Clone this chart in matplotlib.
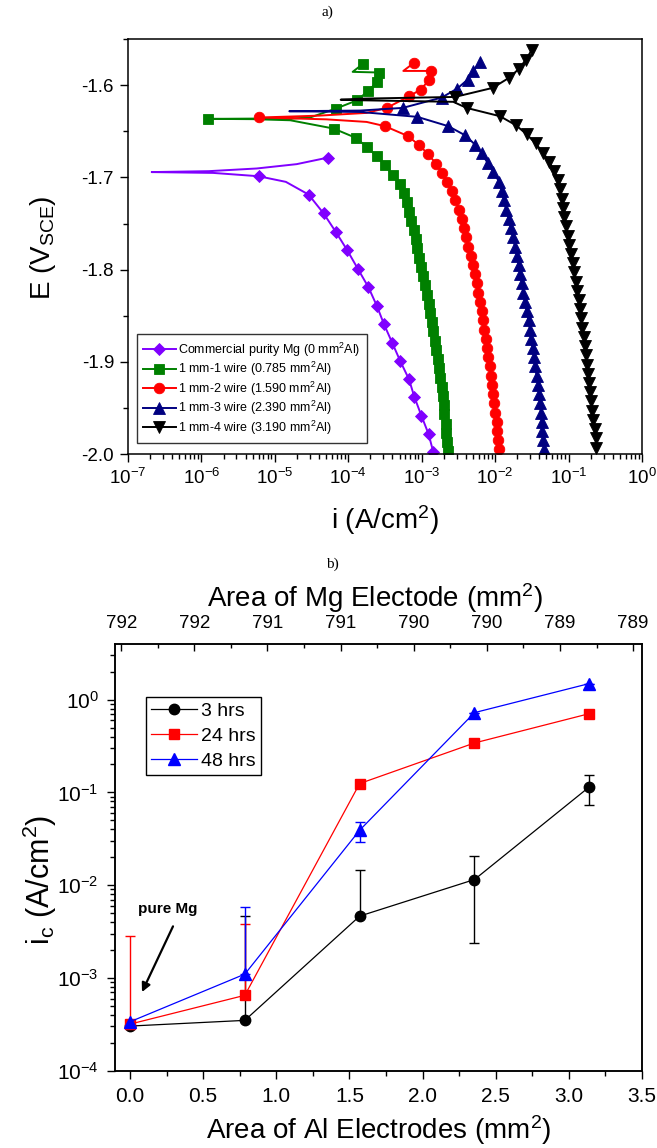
import matplotlib
matplotlib.use('Agg')
import matplotlib.pyplot as plt
import numpy as np
from matplotlib.ticker import (MultipleLocator, LogLocator, FormatStrFormatter,
                               NullFormatter, FixedLocator)

plt.rcParams['font.family'] = ['Liberation Sans', 'DejaVu Sans']
plt.rcParams['mathtext.fontset'] = 'custom'
plt.rcParams['mathtext.rm'] = 'Liberation Sans'
plt.rcParams['mathtext.it'] = 'Liberation Sans:italic'
plt.rcParams['mathtext.bf'] = 'Liberation Sans:bold'
plt.rcParams['axes.unicode_minus'] = False
plt.rcParams['axes.linewidth'] = 1.1

# ---- a) polarisation curves: E (V) and log10 i (A/cm2), in drawing order ----
E_mg = [-1.9975, -1.9784, -1.9586, -1.9380, -1.9189, -1.8995, -1.8796, -1.8595,
        -1.8396, -1.8191, -1.7993, -1.7787, -1.7589, -1.7391, -1.7186, -1.7048,
        -1.6987, -1.6951, -1.6942, -1.6932, -1.6903, -1.6856, -1.6784]
logi_mg = [-2.843, -2.906, -3.003, -3.100, -3.173, -3.29, -3.40, -3.512,
           -3.609, -3.725, -3.868, -4.016, -4.171, -4.335, -4.54, -4.85,
           -5.222, -5.84, -6.677, -5.9, -5.247, -4.703, -4.272]
skip_mg = [15, 17, 18, 19, 20, 21]

E_w1 = [-1.997, -1.987, -1.977, -1.967, -1.957, -1.947, -1.937, -1.927, -1.917,
        -1.907, -1.897, -1.887, -1.877, -1.867, -1.857, -1.847, -1.837, -1.827,
        -1.817, -1.807, -1.797, -1.787, -1.777, -1.767, -1.757, -1.747, -1.737,
        -1.727, -1.717, -1.707, -1.697, -1.687, -1.677, -1.667, -1.657, -1.647,
        -1.638, -1.6368, -1.6365, -1.6362, -1.6362, -1.635,
        -1.6253, -1.6163, -1.6058, -1.5964, -1.5862, -1.5855, -1.5765]
logi_w1 = [-2.645, -2.655, -2.665, -2.675, -2.69, -2.70, -2.715, -2.73, -2.75,
           -2.76, -2.78, -2.80, -2.82, -2.84, -2.86, -2.88, -2.90, -2.93,
           -2.95, -2.98, -3.01, -3.03, -3.06, -3.08, -3.11, -3.14, -3.17,
           -3.20, -3.24, -3.30, -3.396, -3.50, -3.613, -3.745, -3.899, -4.199,
           -4.79, -5.3, -5.906, -5.3, -4.8, -4.52,
           -4.167, -3.877, -3.725, -3.605, -3.582, -3.94, -3.795]
skip_w1 = [36, 37, 39, 40, 41, 47]

E_w2 = [-1.995, -1.985, -1.975, -1.965, -1.955, -1.945, -1.935, -1.925, -1.915,
        -1.905, -1.895, -1.885, -1.875, -1.865, -1.855, -1.845, -1.835, -1.825,
        -1.815, -1.805, -1.795, -1.785, -1.775, -1.765, -1.755, -1.745, -1.735,
        -1.725, -1.715, -1.705, -1.695, -1.685, -1.675, -1.665, -1.655, -1.6444,
        -1.6398, -1.637, -1.635, -1.633, -1.630,
        -1.6246, -1.6119, -1.6047, -1.5946, -1.5845, -1.5845, -1.5754]
logi_w2 = [-1.95, -1.96, -1.97, -1.98, -1.995, -2.01, -2.025, -2.04, -2.055,
           -2.07, -2.09, -2.105, -2.125, -2.145, -2.16, -2.185, -2.205, -2.23,
           -2.25, -2.28, -2.305, -2.335, -2.365, -2.39, -2.42, -2.45, -2.49,
           -2.54, -2.59, -2.651, -2.728, -2.806, -2.91, -3.033, -3.191, -3.50,
           -3.75, -4.3, -5.212, -4.4, -3.75,
           -3.477, -3.169, -3.014, -2.901, -2.878, -3.25, -3.101]
skip_w2 = [36, 37, 39, 40, 46]

E_w3 = [-1.995, -1.985, -1.975, -1.965, -1.955, -1.945, -1.935, -1.925, -1.915,
        -1.905, -1.895, -1.885, -1.875, -1.865, -1.855, -1.845, -1.835, -1.825,
        -1.815, -1.805, -1.795, -1.785, -1.775, -1.765, -1.755, -1.745, -1.735,
        -1.725, -1.715, -1.7048, -1.694, -1.6842, -1.674, -1.6643, -1.6542,
        -1.6444, -1.6343,
        -1.629, -1.6282, -1.6275,
        -1.6246, -1.6134, -1.6036, -1.5939, -1.5845, -1.5753]
logi_w3 = [-1.333, -1.345, -1.355, -1.365, -1.377, -1.39, -1.40, -1.415, -1.435,
           -1.455, -1.47, -1.49, -1.51, -1.525, -1.545, -1.57, -1.595, -1.615,
           -1.635, -1.655, -1.68, -1.705, -1.73, -1.755, -1.785, -1.815, -1.85,
           -1.88, -1.91, -1.944, -2.025, -2.102, -2.183, -2.274, -2.411,
           -2.638, -3.06,
           -3.84, -4.803, -3.84,
           -3.259, -2.728, -2.515, -2.374, -2.298, -2.206]
skip_w3 = [37, 38, 39]

E_w4 = [-1.993, -1.983, -1.973, -1.963, -1.953, -1.943, -1.933, -1.923, -1.913,
        -1.903, -1.893, -1.883, -1.873, -1.863, -1.853, -1.843, -1.833, -1.823,
        -1.813, -1.803, -1.793, -1.783, -1.773, -1.763, -1.753, -1.743, -1.733,
        -1.723, -1.713, -1.703, -1.6929, -1.6831, -1.6734, -1.6632, -1.6531,
        -1.6434, -1.6336, -1.6246,
        -1.618, -1.6163, -1.6157, -1.6146,
        -1.6127, -1.6029, -1.592, -1.5819, -1.5721, -1.562]
logi_w4 = [-0.62, -0.63, -0.645, -0.66, -0.675, -0.69, -0.705, -0.72, -0.735,
           -0.75, -0.765, -0.78, -0.795, -0.81, -0.825, -0.845, -0.86, -0.88,
           -0.90, -0.92, -0.945, -0.965, -0.99, -1.01, -1.035, -1.055, -1.075,
           -1.095, -1.12, -1.15, -1.194, -1.263, -1.344, -1.448, -1.572,
           -1.716, -1.934, -2.388,
           -2.57, -3.84, -4.103, -3.84,
           -2.547, -2.034, -1.811, -1.671, -1.580, -1.502]
skip_w4 = [38, 39, 40, 41]

labels_a = ['Commercial purity Mg (0 mm$^2$Al)', '1 mm-1 wire (0.785 mm$^2$Al)',
            '1 mm-2 wire (1.590 mm$^2$Al)', '1 mm-3 wire (2.390 mm$^2$Al)',
            '1 mm-4 wire (3.190 mm$^2$Al)']

# ---- b) corrosion current vs Al electrode area ----
al_area = [0.0, 0.785, 1.57, 2.355, 3.14]
ic_3h = [3.03e-4, 3.49e-4, 4.64e-3, 0.0115, 0.1146]
ic_3h_lo = [0, 0, 0, 0.0091, 0.0406]
ic_3h_hi = [0, 0.0043, 0.0100, 0.0090, 0.0394]
ic_24h = [3.18e-4, 6.5e-4, 0.1245, 0.341, 0.706]
ic_24h_lo = [0, 0, 0, 0, 0]
ic_24h_hi = [2.5e-3, 3.2e-3, 0, 0, 0]
ic_48h = [3.37e-4, 1.1e-3, 0.0391, 0.724, 1.49]
ic_48h_lo = [0, 0, 0.0101, 0, 0]
ic_48h_hi = [0, 4.65e-3, 0.0085, 0, 0]

mg_total = 791.94
mg_ticks = [792.0, 791.5, 791.0, 790.5, 790.0, 789.5, 789.0, 788.5]
mg_labels = ['792', '792', '791', '791', '790', '790', '789', '789']

W, H = 657, 1148
fig = plt.figure(figsize=(W / 100, H / 100), dpi=100)


def fx(px):
    return px / W


def fy(py):
    return 1 - py / H


# ---------------- panel a ----------------
ax1 = fig.add_axes([0.1948, 0.6045, 0.7823, 0.3619])


def curve(E, logi, skip, color, marker, ms, label):
    i = 10.0 ** np.array(logi)
    keep = [k for k in range(len(E)) if k not in skip]
    ax1.plot(i, E, color=color, lw=1.4, marker=marker, ms=ms, markevery=keep,
             mfc=color, mec=color, mew=0.6, label=label)


curve(E_mg, logi_mg, skip_mg, '#8000FF', 'D', 6.5, labels_a[0])
curve(E_w1, logi_w1, skip_w1, '#008000', 's', 7.0, labels_a[1])
curve(E_w2, logi_w2, skip_w2, '#FF0000', 'o', 7.6, labels_a[2])
curve(E_w3, logi_w3, skip_w3, '#000080', '^', 8.0, labels_a[3])
curve(E_w4, logi_w4, skip_w4, '#000000', 'v', 8.0, labels_a[4])

ax1.set_xscale('log')
ax1.set_xlim(1e-7, 1)
ax1.set_ylim(-2.0, -1.5494)
ax1.xaxis.set_major_locator(LogLocator(base=10, numticks=20))
ax1.xaxis.set_minor_locator(LogLocator(base=10, subs=np.arange(2, 10), numticks=20))
ax1.xaxis.set_minor_formatter(NullFormatter())
ax1.yaxis.set_major_locator(MultipleLocator(0.1))
ax1.yaxis.set_minor_locator(MultipleLocator(0.05))
ax1.yaxis.set_major_formatter(FormatStrFormatter('%.1f'))
ax1.tick_params(which='both', direction='out', top=False, right=False,
                labelsize=13.5, width=1)
ax1.tick_params(which='major', length=6, pad=4)
ax1.tick_params(which='minor', length=3.5)

leg1 = ax1.legend(loc='lower left', bbox_to_anchor=(0.0175, 0.027), borderaxespad=0,
                  fontsize=9, numpoints=1, handlelength=2.6, handletextpad=0.2,
                  labelspacing=0.1, borderpad=0.5, fancybox=False, framealpha=1,
                  edgecolor='#333333')
leg1.get_frame().set_linewidth(1.0)

fig.text(fx(327), fy(12), 'a)', family='Liberation Serif', fontsize=11,
         ha='center', va='center')
fig.text(fx(43), fy(248), 'E (V$_{\\mathregular{SCE}}$)', fontsize=20, rotation=90,
         ha='center', va='center')
fig.text(fx(385), fy(520), 'i (A/cm$^2$)', fontsize=20, ha='center', va='center')

# ---------------- panel b ----------------
ax2 = fig.add_axes([0.1756, 0.0673, 0.8015, 0.3714])

ax2.errorbar(al_area, ic_3h, yerr=[ic_3h_lo, ic_3h_hi], fmt='none', ecolor='black',
             elinewidth=1, capsize=3.5, capthick=1)
ax2.errorbar(al_area, ic_24h, yerr=[ic_24h_lo, ic_24h_hi], fmt='none', ecolor='#FF0000',
             elinewidth=1, capsize=3.5, capthick=1)
ax2.errorbar(al_area, ic_48h, yerr=[ic_48h_lo, ic_48h_hi], fmt='none', ecolor='#0000FF',
             elinewidth=1, capsize=3.5, capthick=1)
ax2.plot(al_area, ic_3h, color='black', lw=0.9, marker='o', ms=7.5, label='3 hrs')
ax2.plot(al_area, ic_24h, color='#FF0000', lw=0.9, marker='s', ms=6.5, label='24 hrs')
ax2.plot(al_area, ic_48h, color='#0000FF', lw=0.9, marker='^', ms=8, label='48 hrs')

ax2.set_yscale('log')
ax2.set_xlim(-0.1, 3.5)
ax2.set_ylim(1e-4, 3.94)
ax2.xaxis.set_major_locator(MultipleLocator(0.5))
ax2.xaxis.set_minor_locator(MultipleLocator(0.25))
ax2.xaxis.set_major_formatter(FormatStrFormatter('%.1f'))
ax2.yaxis.set_major_locator(LogLocator(base=10, numticks=20))
ax2.yaxis.set_minor_locator(LogLocator(base=10, subs=np.arange(2, 10), numticks=20))
ax2.yaxis.set_minor_formatter(NullFormatter())
ax2.tick_params(which='both', direction='out', top=False, right=False,
                labelsize=15, width=1)
ax2.tick_params(which='major', length=6, pad=6)
ax2.tick_params(which='minor', length=3.5)

leg2 = ax2.legend(loc='upper left', bbox_to_anchor=(0.0575, 0.876), borderaxespad=0,
                  fontsize=14, numpoints=1, handlelength=2.4, handletextpad=0.2,
                  labelspacing=0.38, borderpad=0.25, fancybox=False, framealpha=1,
                  edgecolor='black')
leg2.get_frame().set_linewidth(1.0)

ax2.annotate('', xy=(0.082, 7.05e-4), xytext=(0.294, 3.6e-3),
             arrowprops=dict(arrowstyle='-|>', color='black', lw=1.6,
                             mutation_scale=13, shrinkA=0, shrinkB=0))
ax2.text(0.052, 5.5e-3, 'pure Mg', fontsize=11, fontweight='bold', ha='left',
         va='center')

ax_top = ax2.twiny()
ax_top.set_xlim(ax2.get_xlim())
top_pos = [mg_total - m for m in mg_ticks]
ax_top.xaxis.set_major_locator(FixedLocator(top_pos))
ax_top.xaxis.set_minor_locator(FixedLocator([p + 0.25 for p in top_pos[:-1]]))
ax_top.set_xticklabels(mg_labels)
ax_top.tick_params(which='both', direction='in', labelsize=13.5, width=1, pad=9)
ax_top.tick_params(which='major', length=5)
ax_top.tick_params(which='minor', length=3)

fig.text(fx(332), fy(564), 'b)', family='Liberation Serif', fontsize=11,
         ha='center', va='center')
fig.text(fx(375), fy(598), 'Area of Mg Electode (mm$^2$)', fontsize=20,
         ha='center', va='center')
fig.text(fx(379), fy(1130), 'Area of Al Electrodes (mm$^2$)', fontsize=20,
         ha='center', va='center')
fig.text(fx(40), fy(880), 'i$_\\mathregular{c}$ (A/cm$^2$)', fontsize=22, rotation=90,
         ha='center', va='center')

fig.savefig('out.png', dpi=100)
